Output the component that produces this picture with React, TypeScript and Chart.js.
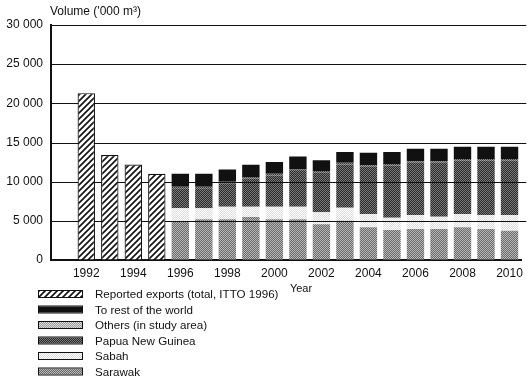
import React, { useEffect, useRef } from "react";
import { Chart, registerables } from "chart.js";

Chart.register(...registerables);

const categories = ["", "1992", "1993", "1994", "1995", "1996", "1997", "1998", "1999", "2000", "2001", "2002", "2003", "2004", "2005", "2006", "2007", "2008", "2009", "2010"];
const reported = [null, 21300, 13400, 12200, 11000, null, null, null, null, null, null, null, null, null, null, null, null, null, null, null];
const sarawak = [null, null, null, null, null, 4970, 5200, 5200, 5500, 5200, 5200, 4550, 5000, 4170, 3830, 3950, 3950, 4170, 3950, 3740];
const sabah = [null, null, null, null, null, 1630, 1400, 1600, 1300, 1600, 1600, 1550, 1670, 1700, 1570, 1790, 1580, 1700, 1790, 2000];
const png = [null, null, null, null, null, 2550, 2550, 3000, 3600, 4000, 4550, 5050, 5530, 6030, 6650, 6660, 6870, 6830, 6960, 6960];
const others = [null, null, null, null, null, 200, 200, 200, 200, 200, 200, 200, 200, 200, 200, 200, 200, 200, 200, 200];
const restOfWorld = [null, null, null, null, null, 1650, 1650, 1550, 1550, 1500, 1650, 1400, 1400, 1600, 1550, 1600, 1600, 1550, 1550, 1550];
const yTicks = [0, 5000, 10000, 15000, 20000, 25000, 30000];
const legendLabels = ["Reported exports (total, ITTO 1996)", "To rest of the world", "Others (in study area)", "Papua New Guinea", "Sabah", "Sarawak"];

const FONT = "'Liberation Sans', Arial, sans-serif";

function checker(a: string, b: string): CanvasPattern {
  const c = document.createElement("canvas");
  c.width = 2;
  c.height = 2;
  const x = c.getContext("2d")!;
  x.fillStyle = a;
  x.fillRect(0, 0, 2, 2);
  x.fillStyle = b;
  x.fillRect(0, 0, 1, 1);
  x.fillRect(1, 1, 1, 1);
  return x.createPattern(c, "repeat")!;
}

function hatch(): CanvasPattern {
  const s = 6;
  const c = document.createElement("canvas");
  c.width = s;
  c.height = s;
  const x = c.getContext("2d")!;
  x.fillStyle = "#fff";
  x.fillRect(0, 0, s, s);
  x.strokeStyle = "#111";
  x.lineWidth = 1.6;
  x.beginPath();
  x.moveTo(-1, s + 1);
  x.lineTo(s + 1, -1);
  x.moveTo(-2, 2);
  x.lineTo(2, -2);
  x.moveTo(s - 2, s + 2);
  x.lineTo(s + 2, s - 2);
  x.stroke();
  return x.createPattern(c, "repeat")!;
}

export default function App() {
  const ref = useRef<HTMLCanvasElement>(null);
  useEffect(() => {
    document.body.style.margin = "0";
    const pHatch = hatch();
    const pSarawak = checker("#6a6a6a", "#b8b8b8");
    const pSabah = checker("#dcdcdc", "#ffffff");
    const pPng = checker("#2a2a2a", "#7a7a7a");
    const pOthers = checker("#3a3a3a", "#8a8a8a");
    const pRest = "#111";
    const legendFills = [pHatch, pRest, checker("#9a9a9a", "#e0e0e0"), pPng, pSabah, pSarawak];

    const overlay = {
      id: "overlay",
      beforeDatasetDraw(chart: any, args: any) {
        // gridlines: above the stacked bars, beneath the hatched bars
        if (args.index !== 0) return;
        const ctx = chart.ctx;
        const y = chart.scales.y;
        const a = chart.chartArea;
        ctx.save();
        ctx.strokeStyle = "#111";
        ctx.lineWidth = 1.2;
        yTicks.forEach((v) => {
          if (v === 0) return;
          const py = Math.round(y.getPixelForValue(v)) + 0.5;
          ctx.beginPath();
          ctx.moveTo(a.left, py);
          ctx.lineTo(a.right + 5, py);
          ctx.stroke();
        });
        ctx.restore();
      },
      afterDraw(chart: any) {
        const ctx = chart.ctx;
        ctx.save();
        ctx.fillStyle = "#111";
        ctx.font = `12px ${FONT}`;
        ctx.textBaseline = "middle";
        ctx.textAlign = "left";
        ctx.fillText("Volume ('000 m\u00B3)", 50, 12);
        ctx.textAlign = "center";
        ctx.font = `11px ${FONT}`;
        ctx.fillText("Year", 301, 289);
        ctx.textAlign = "left";
        ctx.font = `11.6px ${FONT}`;
        legendLabels.forEach((lab, i) => {
          const cy = 294 + i * 15.5;
          ctx.fillStyle = legendFills[i];
          ctx.fillRect(38, cy - 3, 44, 6);
          ctx.strokeStyle = "#111";
          ctx.lineWidth = 1;
          ctx.strokeRect(38.5, cy - 3.5, 44, 7);
          ctx.fillStyle = "#111";
          ctx.fillText(lab, 95, cy + 1);
        });
        ctx.restore();
      },
    };

    const common = { barPercentage: 0.74, categoryPercentage: 1, borderWidth: 0 };
    const chart = new Chart(ref.current!, {
      type: "bar",
      data: {
        labels: categories,
        datasets: [
          { label: legendLabels[0], data: reported, backgroundColor: pHatch, ...common, borderWidth: 1.2, borderColor: "#111", order: -1 },
          { label: legendLabels[5], data: sarawak, backgroundColor: pSarawak, ...common },
          { label: legendLabels[4], data: sabah, backgroundColor: pSabah, ...common },
          { label: legendLabels[3], data: png, backgroundColor: pPng, ...common },
          { label: legendLabels[2], data: others, backgroundColor: pOthers, ...common },
          { label: legendLabels[1], data: restOfWorld, backgroundColor: pRest, ...common },
        ] as any,
      },
      options: {
        responsive: false,
        animation: false,
        layout: { padding: { top: 25, right: 5, left: 0, bottom: 0 } },
        plugins: { legend: { display: false }, tooltip: { enabled: false } },
        scales: {
          x: {
            stacked: true,
            grid: { display: true, drawOnChartArea: false, drawTicks: false },
            border: { display: true, color: "#111", width: 2 },
            ticks: {
              autoSkip: false,
              maxRotation: 0,
              padding: 6,
              color: "#111",
              font: { family: FONT, size: 12 },
              callback: (_v: any, i: number) => {
                const l = categories[i];
                return l && parseInt(l) % 2 === 0 ? l : "";
              },
            },
            afterFit: (s: any) => {
              s.height = 121;
            },
          },
          y: {
            stacked: true,
            min: 0,
            max: 30000,
            afterBuildTicks: (s: any) => {
              s.ticks = yTicks.map((v) => ({ value: v }));
            },
            grid: { display: true, drawOnChartArea: false, drawTicks: false },
            border: { display: true, color: "#111", width: 2 },
            ticks: {
              padding: 8,
              color: "#111",
              font: { family: FONT, size: 12 },
              callback: (v: any) => String(v).replace(/\B(?=(\d{3})+(?!\d))/g, " "),
            },
            afterFit: (s: any) => {
              s.width = 51;
            },
          },
        },
      },
      plugins: [overlay],
    });
    return () => chart.destroy();
  }, []);
  return <canvas ref={ref} width={529} height={381} style={{ display: "block" }} />;
}
